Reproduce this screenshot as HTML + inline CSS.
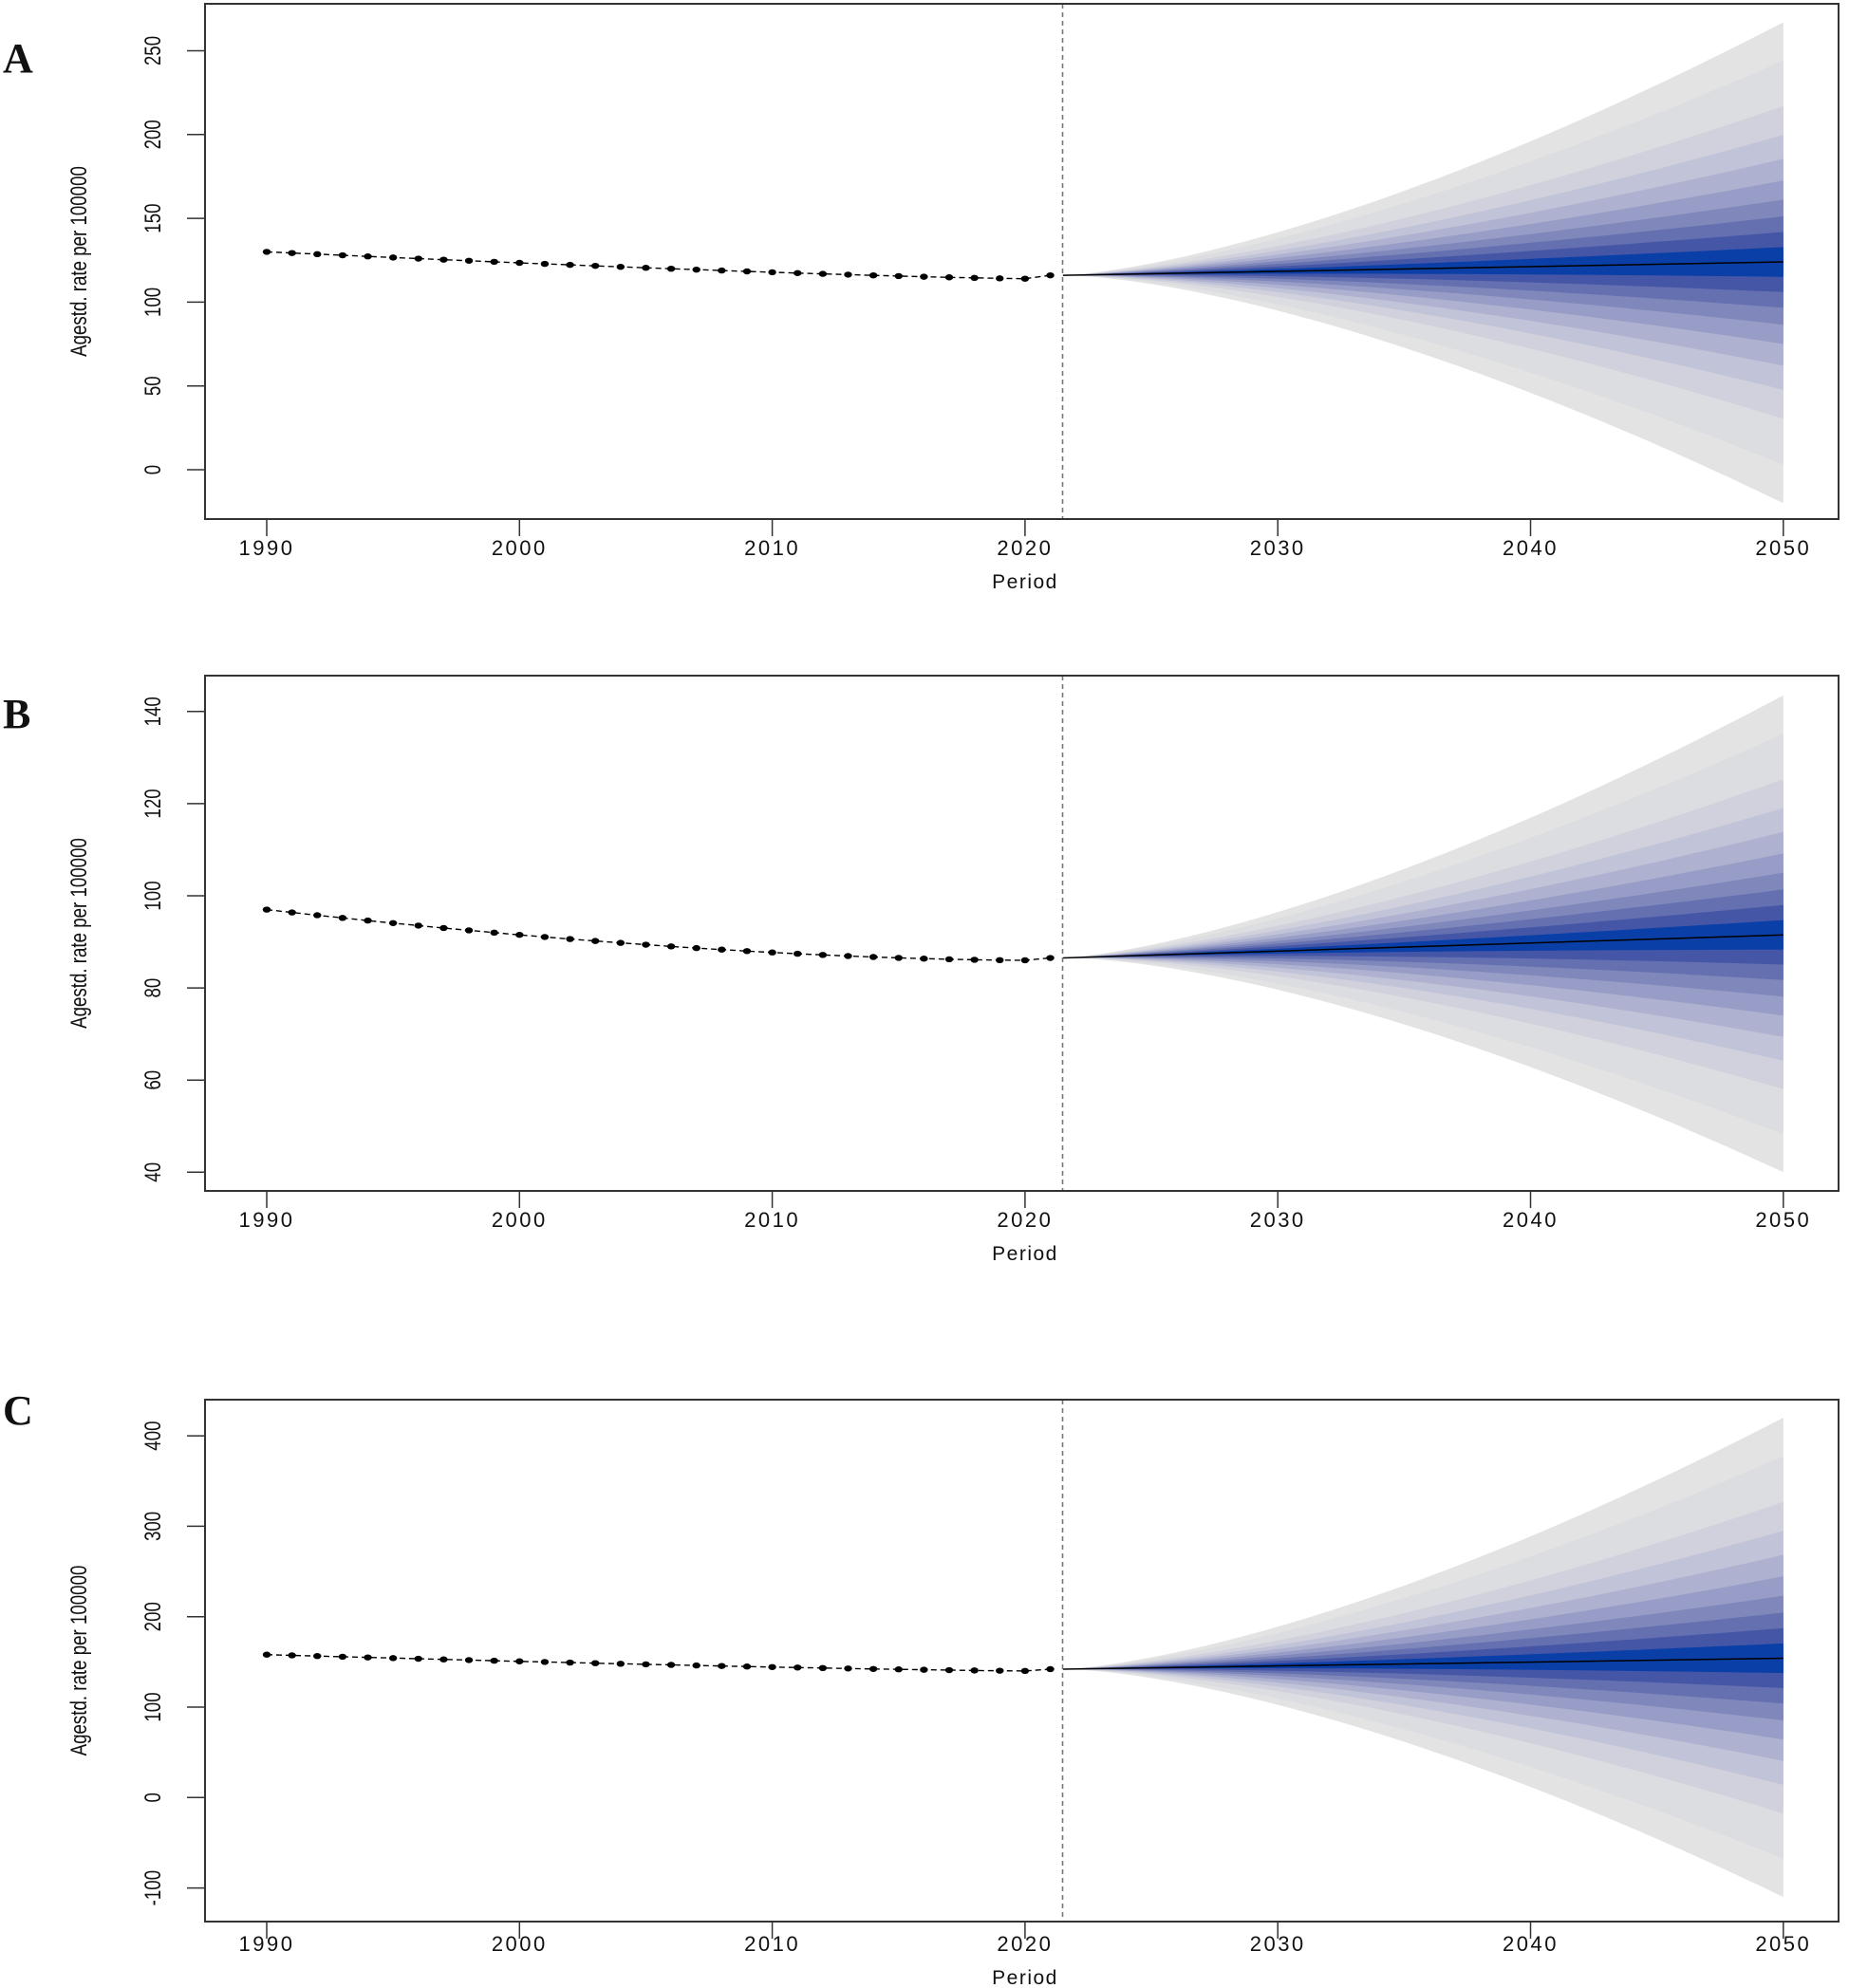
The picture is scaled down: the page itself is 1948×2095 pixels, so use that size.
<!DOCTYPE html>
<html><head><meta charset="utf-8">
<style>
html,body{margin:0;padding:0;background:#fff;}
svg{display:block;}
</style></head>
<body>
<svg id="s" width="1948" height="2095" viewBox="0 0 1948 2095" xmlns="http://www.w3.org/2000/svg"></svg>
<script>
(function(){
var svg=document.getElementById('s');
var NS='http://www.w3.org/2000/svg';
function el(tag,attrs,text){var e=document.createElementNS(NS,tag);for(var k in attrs)e.setAttribute(k,attrs[k]);if(text!==undefined)e.textContent=text;svg.appendChild(e);return e;}
function X(yr){return 281+(yr-1990)*26.63;}
var L=216,R=1937;
var panels=[
 {top:4,bot:547,y0:495,k:1.766,ticks:[0,50,100,150,200,250],labY:585,perY:620,letter:'A',ly:76,
  h0:130,h1:114,p:1.3,last:116,fT:267,fB:-20,m1:124},
 {top:712,bot:1255,y0:1429.5,k:4.855,ticks:[40,60,80,100,120,140],labY:1293,perY:1328,letter:'B',ly:767,
  h0:97,h1:86,p:1.7,last:86.5,fT:143.5,fB:40,m1:91.5},
 {top:1475,bot:2025,y0:1894.3,k:0.953,ticks:[-100,0,100,200,300,400],labY:2056,perY:2091,letter:'C',ly:1501,
  h0:158,h1:140,p:1.3,last:142,fT:420,fB:-110,m1:154}
];
var fr=[1,0.84,0.65,0.53,0.43,0.34,0.26,0.19,0.125,0.062];
var cols=['#e3e3e3','#dcdde1','#d0d1dc','#c1c3d8','#aeb1cf','#979dc6','#7f87bb','#6470b0','#4656a7','#0a3fa8'];
panels.forEach(function(P){
 function Y(v){return P.y0-v*P.k;}
 var t0=2021.5,T=28.5,N=40;
 var up=P.fT-P.m1,dn=P.m1-P.fB;
 for(var b=0;b<fr.length;b++){
  var topPts=[],botPts=[];
  for(var i=0;i<=N;i++){
   var t=T*i/N,s=Math.pow(t/T,1.5),m=P.last+(P.m1-P.last)*t/T;
   var yr=t0+t;
   topPts.push(X(yr).toFixed(1)+','+Y(m+up*fr[b]*s).toFixed(1));
   botPts.unshift(X(yr).toFixed(1)+','+Y(m-dn*fr[b]*s).toFixed(1));
  }
  el('polygon',{points:topPts.concat(botPts).join(' '),fill:cols[b]});
 }
 el('line',{x1:X(t0),y1:Y(P.last),x2:X(2050),y2:Y(P.m1),stroke:'#000','stroke-width':1.5});
 var pts=[];
 for(var yr=1990;yr<=2020;yr++){
  var v=P.h1+(P.h0-P.h1)*Math.pow((2020-yr)/30,P.p);
  pts.push([X(yr),Y(v)]);
 }
 pts.push([X(2021),Y(P.last)]);
 el('polyline',{points:pts.map(function(p){return p[0].toFixed(1)+','+p[1].toFixed(1);}).join(' '),fill:'none',stroke:'#000','stroke-width':1.4,'stroke-dasharray':'6,4'});
 pts.forEach(function(p){el('ellipse',{cx:p[0],cy:p[1],rx:4.2,ry:3.2,fill:'#000'});});
 el('line',{x1:1119.5,y1:P.top,x2:1119.5,y2:P.bot,stroke:'#777','stroke-width':1.6,'stroke-dasharray':'5,4'});
 el('rect',{x:L,y:P.top,width:R-L,height:P.bot-P.top,fill:'none',stroke:'#333','stroke-width':2});
 P.ticks.forEach(function(v){
  var y=Y(v);
  el('line',{x1:197,y1:y,x2:L,y2:y,stroke:'#333','stroke-width':1.5});
  el('text',{x:0,y:0,'font-family':'Liberation Sans Narrow, Liberation Sans, sans-serif','font-size':24,'text-anchor':'middle',fill:'#111',transform:'translate(169,'+y+') rotate(-90) scale(0.78,1)'},String(v));
 });
 var mid=(P.top+P.bot)/2;
 el('text',{x:0,y:0,'font-family':'Liberation Sans Narrow, Liberation Sans, sans-serif','font-size':24,'text-anchor':'middle',fill:'#111',transform:'translate(91,'+mid+') rotate(-90) scale(0.78,1)'},'Agestd. rate per 100000');
 for(var yr2=1990;yr2<=2050;yr2+=10){
  var x=X(yr2);
  el('line',{x1:x,y1:P.bot,x2:x,y2:P.bot+18,stroke:'#333','stroke-width':1.5});
  el('text',{x:x,y:P.labY,'font-family':'Liberation Sans, sans-serif','font-size':22,'text-anchor':'middle',fill:'#111','letter-spacing':'2.5'},String(yr2));
 }
 el('text',{x:1080,y:P.perY,'font-family':'Liberation Sans, sans-serif','font-size':21,'text-anchor':'middle',fill:'#111','letter-spacing':'1.5'},'Period');
 el('text',{x:3,y:P.ly,'font-family':'Liberation Serif, serif','font-size':44,'font-weight':'bold',fill:'#111'},P.letter);
});
})();
</script>
</body></html>
